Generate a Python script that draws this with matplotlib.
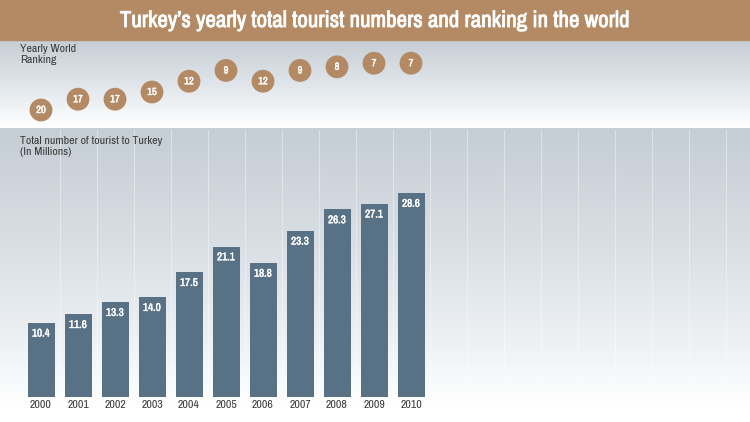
import numpy as np
import matplotlib
matplotlib.use("Agg")
import matplotlib.pyplot as plt
import matplotlib.patheffects as pe
from matplotlib import font_manager
from matplotlib.colors import LinearSegmentedColormap

# ==========================
# DATA
# ==========================

years = ["2000", "2001", "2002", "2003", "2004", "2005",
         "2006", "2007", "2008", "2009", "2010"]
tourists = [10.4, 11.6, 13.3, 14.0, 17.5, 21.1, 18.8, 23.3, 26.3, 27.1, 28.6]
ranking = [20, 17, 17, 15, 12, 9, 12, 9, 8, 7, 7]

title = "Turkey\u2019s yearly total tourist numbers and ranking in the world"
rank_label = "Yearly World\nRanking"
bar_label = "Total number of tourist to Turkey\n(In Millions)"

brown = "#b38a64"
bar_color = "#587185"
text_dark = "#3a3a3a"

# pick a narrow family if one is installed
names = sorted({f.name for f in font_manager.fontManager.ttflist})
narrow = [n for n in names if "Narrow" in n or "Condensed" in n]
family = narrow[0] if narrow else "Liberation Sans"
plt.rcParams["font.family"] = [family, "DejaVu Sans"]

# the narrow face may have no bold cut, so thicken white text with a stroke
def heavy(w):
    return [pe.withStroke(linewidth=w, foreground="white")]

W, H = 750, 422
fig = plt.figure(figsize=(W / 100, H / 100), dpi=100)


def frac(x0, y0, x1, y1):
    # pixel box (top-left origin) -> figure fraction rect
    return [x0 / W, 1 - y1 / H, (x1 - x0) / W, (y1 - y0) / H]


# ==========================
# BACKGROUND
# ==========================

bg = fig.add_axes([0, 0, 1, 1])
bg.set_xlim(0, W)
bg.set_ylim(H, 0)
bg.axis("off")

grad = LinearSegmentedColormap.from_list("g", ["#c6ced5", "#dfe5ea", "#ffffff"])
top_grad = np.linspace(0, 1, 100).reshape(-1, 1)
bg.imshow(top_grad, cmap=grad, extent=[0, W, 127, 40], aspect="auto", zorder=0)
low_grad = np.linspace(0, 1, 200).reshape(-1, 1) ** 1.1
bg.imshow(low_grad, cmap=grad, extent=[0, W, 410, 128], aspect="auto", zorder=0)
bg.add_patch(plt.Rectangle((0, 410), W, H - 410, color="white", zorder=0))
bg.add_patch(plt.Rectangle((0, 0), W, 40, color=brown, zorder=1))
t = bg.text(375, 21, title, color="white", fontsize=18, fontweight="bold",
            ha="center", va="center", zorder=2, path_effects=heavy(0.6))

# shrink the title until it fits the width of the reference
fig.canvas.draw()
while t.get_window_extent().width > 512 and t.get_fontsize() > 6:
    t.set_fontsize(t.get_fontsize() - 0.25)
    fig.canvas.draw()

# ==========================
# BARS
# ==========================

step = 37.0
x0 = 41.0
ax = fig.add_axes(frac(0, 130, W, 397))
ax.patch.set_alpha(0)
ax.set_xlim(-x0 / step, (W - x0) / step)
ax.set_ylim(0, 267 / 7.13)

for k in range(19):
    ax.axvline(k + 0.5, color="white", lw=0.8, alpha=0.4, zorder=0)

pos = np.arange(len(years))
bars = ax.bar(pos, tourists, width=27 / step, color=bar_color, zorder=2)
for b, v in zip(bars, tourists):
    ax.text(b.get_x() + b.get_width() / 2, v - 1.5, f"{v:.1f}",
            color="white", fontsize=8, fontweight="bold",
            ha="center", va="center", zorder=3, path_effects=heavy(0.3))

ax.set_xticks(pos)
ax.set_xticklabels(years, fontsize=8.5, color=text_dark)
ax.tick_params(axis="x", length=0, pad=2)
ax.set_yticks([])
for s in ax.spines.values():
    s.set_visible(False)

ax.text(20 / step - x0 / step, 36.6, bar_label, fontsize=8.5, color=text_dark,
        ha="left", va="top", linespacing=1.1)

# ==========================
# RANKING
# ==========================

rx = fig.add_axes(frac(0, 40, W, 128))
rx.patch.set_alpha(0)
rx.set_xlim(-x0 / step, (W - x0) / step)
rx.set_ylim(25, 0.55)
rx.axis("off")

rx.scatter(pos, ranking, s=270, color=brown, edgecolor="none", zorder=2)
for p, r in zip(pos, ranking):
    rx.text(p, r, str(r), color="white", fontsize=7.5, fontweight="bold",
            ha="center", va="center", zorder=3, path_effects=heavy(0.3))

rx.text(20 / step - x0 / step, 1.6, rank_label, fontsize=8.5, color=text_dark,
        ha="left", va="top", linespacing=1.1)

fig.savefig("out.png", dpi=100)
